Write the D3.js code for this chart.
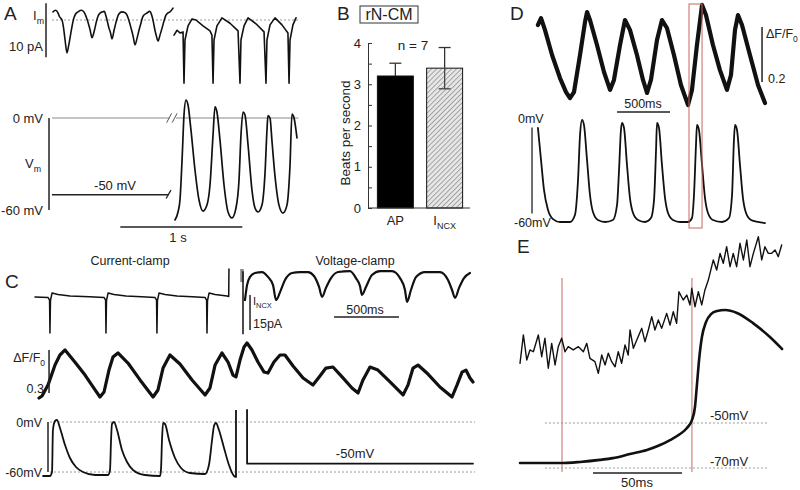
<!DOCTYPE html>
<html>
<head>
<meta charset="utf-8">
<script src="https://d3js.org/d3.v7.min.js"></script>
<style>
  body { margin: 0; background: white; }
  svg { font-family: 'Liberation Sans', Arial, sans-serif; }
  .trace { fill: none; stroke: #111; stroke-linejoin: round; stroke-linecap: round; }
  .dots { stroke: #9a9a9a; stroke-width: 1; stroke-dasharray: 2,2; fill: none; }
  .sbar { stroke: #222; stroke-width: 1.5; }
  .red { stroke: #c46a62; stroke-width: 1; fill: none; }
</style>
</head>
<body>
<svg width="800" height="490"></svg>
<script>
// ---------- data ----------
// A: membrane current (ms, pA) before and after switching, and voltage (ms, mV)
var aCurrentPre = [[8,1.5],[30,1.8],[49,1.3],[62,0.6],[82,0],[95,-1.5],[107,-3.7],[123,-6.1],[136,-4.8],[148,-3.3],[164,-1.2],[180,0.4],[196,1.2],[213,1.5],[240,1.8],[262,1.5],[280,0.6],[295,-0.4],[312,-1.8],[328,-3.3],[340,-2.6],[352,-1.5],[365,-0.2],[377,0.7],[395,1.3],[410,1.5],[428,1.6],[443,0.7],[455,-0.4],[467,-1.5],[480,-2.4],[492,-3.5],[508,-2.0],[525,-0.4],[548,1.1],[574,1.5],[596,1.4],[615,0.9],[632,-0.2],[648,-1.5],[665,-3.0],[680,-4.6],[697,-3.4],[713,-1.9],[730,-0.5],[746,0.7],[779,1.3],[800,1.6],[820,0.7],[832,-0.5],[844,-1.9],[856,-3.0],[869,-3.9],[885,-2.8],[902,-1.5],[918,-0.2],[934,0.9],[950,1.3],[967,1.5],[992,2.2]];
var aCurrentPost = [[1000,-2.8],[1025,-1.9],[1049,-2.4],[1074,-2.2],[1082,-11.7],[1090,-3.7],[1115,-1.1],[1148,0.2],[1180,0],[1238,-1.1],[1295,-2.0],[1311,-2.8],[1320,-11.7],[1328,-3.7],[1352,-1.1],[1393,0.4],[1459,-0.6],[1525,-2.0],[1541,-11.7],[1549,-3.7],[1574,-1.1],[1607,0.4],[1672,-0.7],[1738,-2.2],[1754,-11.7],[1762,-3.7],[1787,-0.9],[1828,0.4],[1885,-0.9],[1934,-2.4],[1943,-11.7],[1951,-3.7],[1975,-0.9],[2000,0.4]];
var aVoltage = [[1008,-66.5],[1033,-61.3],[1049,-53.5],[1066,-27.4],[1082,2],[1098,11.7],[1115,8.5],[1139,-7.8],[1172,-33.9],[1205,-53.5],[1238,-60.7],[1270,-56.8],[1295,-43.7],[1320,-11.1],[1336,7.2],[1352,3.9],[1377,-14.4],[1410,-43.7],[1443,-61.3],[1475,-65.2],[1508,-58.7],[1533,-40.4],[1549,-11.1],[1566,3.9],[1582,2],[1607,-17.6],[1639,-47],[1664,-58.7],[1689,-61.3],[1721,-56.8],[1746,-36],[1762,-8],[1770,1.5],[1787,0],[1803,-15],[1828,-38],[1861,-57],[1893,-62],[1926,-56.8],[1951,-30.7],[1967,2.6],[1984,0],[2008,-13]];
var aHoldMV = -50;

// B: beating rate
var bCategories = ["AP", "INCX"];
var bMeans = [3.2, 3.39];
var bErrors = [0.31, 0.5];
var bTicks = [0, 0.5, 1, 1.5, 2, 2.5, 3, 3.5, 4];

// C: current-clamp then voltage-clamp (ms)
var cCurrentCC = [[0,0],[100,-0.2],[112,-1.3],[115,-15.4],[119,-1.5],[131,1.7],[177,1.1],[269,0.4],[420,0.1],[531,-0.2],[543,-1.3],[546,-15.4],[550,-1.5],[562,1.7],[608,1.1],[700,0.4],[820,0.1],[923,-0.2],[935,-1.3],[938,-15.4],[942,-1.5],[954,1.7],[1000,1.1],[1092,0.4],[1210,0.1],[1308,-0.2],[1320,-1.3],[1323,-15.4],[1327,-1.5],[1339,1.7],[1385,1.1],[1477,0.4],[1490,0.2],[1492,12]];
var cCurrentVC = [[1615,-1.3],[1631,5.1],[1654,8.6],[1692,10.3],[1746,10.7],[1792,8.6],[1831,5.1],[1854,-1.3],[1885,2.1],[1923,7.3],[1977,10.3],[2038,10.7],[2100,10.7],[2146,9],[2185,4.3],[2208,0],[2238,3.9],[2277,8.1],[2331,10.7],[2423,11.1],[2469,8.1],[2500,4.7],[2515,0.9],[2546,4.3],[2592,9.4],[2654,11.1],[2746,11.1],[2808,8.1],[2846,3],[2862,-2.1],[2892,3],[2931,8.6],[3000,10.7],[3115,10.7],[3177,7.3],[3208,3],[3231,-0.4],[3262,3.9],[3300,8.1],[3346,10.3]];
var cFluo = [[31,0],[54,0.014],[100,0.09],[154,0.23],[192,0.3],[231,0.335],[308,0.25],[385,0.16],[462,0.056],[500,0.007],[531,0.042],[569,0.195],[600,0.286],[638,0.314],[715,0.244],[808,0.126],[908,0.007],[946,0.056],[985,0.209],[1038,0.3],[1115,0.237],[1208,0.126],[1308,0.021],[1346,0.07],[1385,0.23],[1438,0.314],[1485,0.251],[1523,0.16],[1546,0.147],[1577,0.265],[1608,0.356],[1631,0.384],[1669,0.335],[1715,0.251],[1762,0.181],[1792,0.174],[1838,0.251],[1885,0.3],[1923,0.3],[1985,0.223],[2062,0.14],[2138,0.091],[2192,0.154],[2238,0.209],[2292,0.216],[2369,0.14],[2438,0.07],[2485,0.035],[2523,0.126],[2577,0.216],[2638,0.195],[2731,0.112],[2831,0.021],[2869,0.09],[2908,0.209],[2946,0.23],[3023,0.167],[3115,0.077],[3208,0.007],[3246,0.09],[3285,0.181],[3315,0.195],[3346,0.14],[3369,0.112]];
var cVoltageCC = [[62,-64.8],[115,-64.8],[131,-60],[138,-9.6],[154,1.2],[169,2.4],[192,-7.2],[231,-27.6],[269,-43.2],[315,-54],[369,-60],[462,-63.6],[562,-63.6],[577,-57.6],[585,-21.6],[592,-2.4],[608,0],[631,-9.6],[669,-33.6],[708,-48],[754,-57.6],[846,-63.6],[962,-64.8],[969,-57.6],[977,-21.6],[985,-1.2],[1000,-2.4],[1031,-21.6],[1077,-43.2],[1123,-55.2],[1192,-61.2],[1308,-62.4],[1338,-51.6],[1362,-21.6],[1377,-4.8],[1392,-1.2],[1415,-9.6],[1454,-31.2],[1492,-51.6],[1531,-64.8],[1546,-66]];
var cVoltageVC = [[1631,14.4],[1631.5,-50],[3369,-50]];

// D: spontaneous Ca transient (dF/F0) and AP (mV), ms
var dFluo = [[9,0.291],[38,0.316],[75,0.273],[142,0.182],[217,0.098],[274,0.047],[311,0.025],[349,0.047],[406,0.182],[453,0.302],[472,0.338],[500,0.309],[566,0.218],[632,0.12],[689,0.055],[726,0.091],[783,0.218],[830,0.309],[877,0.273],[943,0.182],[1000,0.091],[1038,0.044],[1075,0.091],[1132,0.236],[1179,0.309],[1226,0.28],[1292,0.182],[1358,0.073],[1425,0],[1462,0.055],[1509,0.218],[1557,0.364],[1594,0.327],[1660,0.218],[1726,0.127],[1792,0.055],[1830,0.109],[1868,0.273],[1896,0.327],[1934,0.291],[2009,0.182],[2085,0.073],[2151,0.007]];
var dVoltage = [[9,-1.3],[38,-22.2],[66,-41.7],[104,-54.8],[151,-60.7],[217,-62.6],[311,-62.6],[358,-58],[387,-35.2],[406,-5.9],[425,3.9],[443,0.7],[472,-22.2],[500,-45],[528,-56.1],[575,-61.3],[642,-62.6],[717,-61.3],[755,-51.5],[774,-28.7],[792,-2.6],[802,2],[821,-1.3],[849,-25.4],[877,-47],[906,-56.7],[953,-61.3],[1019,-62.6],[1075,-60],[1104,-48.3],[1123,-15.7],[1132,2],[1151,-1.3],[1179,-25.4],[1208,-47],[1236,-56.7],[1283,-61.3],[1349,-62.6],[1425,-62.6],[1462,-60],[1481,-45],[1500,-12.4],[1509,0.7],[1528,-2.6],[1557,-25.4],[1585,-47],[1613,-56.7],[1660,-61.3],[1745,-62.6],[1811,-60],[1840,-45],[1858,-9.1],[1868,0.7],[1887,-2.6],[1915,-25.4],[1943,-47],[1972,-56.7],[2019,-61.3],[2085,-62.6],[2151,-63.3]];
var dWindow = [1434, 1557];

// E: zoom on the boxed upstroke, ms
var eFluo = [[0,0.78],[1.9,2.67],[3.8,1.0],[5.6,1.67],[7.5,1.55],[10.3,2.67],[12.2,1.22],[14.0,2.45],[15.9,0.45],[17.8,2.11],[19.7,0.67],[21.5,1.89],[23.4,2.45],[25.3,1.55],[27.1,1.89],[29.9,1.67],[32.8,1.89],[35.6,1.55],[37.5,2.11],[39.3,1.11],[42.1,0.89],[44.0,0.11],[45.9,1.33],[47.8,0.67],[49.6,1.45],[51.5,0.89],[53.4,0.55],[55.2,1.55],[57.1,0.78],[59.0,2.0],[60.8,1.33],[61.8,3.0],[63.7,1.78],[65.6,2.33],[68.4,3.11],[70.2,2.22],[72.1,3.0],[74.0,3.89],[75.8,3.0],[77.7,3.67],[79.6,3.11],[82.4,4.11],[84.3,3.33],[86.1,4.22],[88.0,3.45],[89.3,5.55],[91.7,5.0],[93.7,5.33],[95.5,4.67],[96.5,5.78],[98.3,4.55],[100.2,5.55],[102.1,4.67],[103.9,5.67],[105.8,6.33],[108.6,7.67],[110.5,7.0],[112.4,8.11],[114.2,7.45],[116.1,8.55],[118.0,7.22],[119.8,8.11],[121.7,7.22],[123.6,8.78],[125.5,7.67],[127.4,9.0],[129.2,7.22],[131.1,8.11],[133.9,9.22],[135.8,7.67],[137.6,8.55],[139.5,8.11],[141.4,8.11],[143.3,8.33],[145.1,7.89],[147.0,8.67]];
var eVoltage = [[0,-67.8],[22.5,-67.8],[33.7,-67.3],[44.9,-66.4],[52.2,-65.6],[61.8,-63.8],[71.3,-62],[78.7,-59.8],[84.3,-57.6],[89.9,-54.9],[93.8,-52.2],[96.6,-48.7],[98.3,-42.9],[99.4,-33.1],[100.6,-22],[102.2,-11.8],[104.5,-5.1],[107.3,-1.6],[110.7,-0.2],[115.2,0.2],[121.9,-1.1],[130.9,-5.6],[140.4,-11.8],[147.2,-17.1]];
var eMarks = [23.6, 96.6];

// ---------- helpers ----------
var svg = d3.select("svg");

function trace(data, x, y, w, curve) {
  return svg.append("path").attr("class", "trace")
    .attr("stroke-width", w)
    .attr("d", d3.line().x(function (d) { return x(d[0]); }).y(function (d) { return y(d[1]); })
      .curve(curve || d3.curveLinear)(data));
}
function line(x1, y1, x2, y2, cls) {
  return svg.append("line").attr("x1", x1).attr("y1", y1).attr("x2", x2).attr("y2", y2).attr("class", cls);
}
function label(x, y, str, size, anchor, sub) {
  var t = svg.append("text").attr("x", x).attr("y", y)
    .attr("font-size", size).attr("text-anchor", anchor || "start").attr("fill", "#222").text(str);
  if (sub) t.append("tspan").attr("font-size", size * 0.68).attr("dy", size * 0.3).text(sub);
  return t;
}

// ---------- panel A ----------
var xA = d3.scaleLinear().domain([0, 2000]).range([52, 296]);
var yAI = d3.scaleLinear().domain([-10, 0]).range([74, 20]);
var yAV = d3.scaleLinear().domain([-60, 0]).range([210, 118]);
var aBreak = 975;

line(xA(0), yAI(0), xA(2020), yAI(0), "dots");
trace(aCurrentPre, xA, yAI, 1.6, d3.curveMonotoneX);
trace(aCurrentPost, xA, yAI, 1.6);
line(46, yAI(3.1), 46, yAI(-6.9), "sbar");

line(xA(0), yAV(0), xA(aBreak - 10), yAV(0)).attr("stroke", "#888").attr("stroke-width", 1);
line(xA(aBreak + 40), yAV(0), xA(2020), yAV(0)).attr("stroke", "#888").attr("stroke-width", 1);
line(xA(aBreak - 35), yAV(-3), xA(aBreak + 5), yAV(3)).attr("stroke", "#555");
line(xA(aBreak + 10), yAV(-3), xA(aBreak + 50), yAV(3)).attr("stroke", "#555");
line(xA(0), yAV(aHoldMV), xA(aBreak - 20), yAV(aHoldMV)).attr("stroke", "#222").attr("stroke-width", 1.5);
line(xA(aBreak - 40), yAV(aHoldMV - 2.5), xA(aBreak), yAV(aHoldMV + 3)).attr("stroke", "#222").attr("stroke-width", 1.3);
trace(aVoltage, xA, yAV, 1.7, d3.curveMonotoneX);
line(49, yAV(0), 49, yAV(-60), "sbar");
line(xA(560), 227, xA(1560), 227, "sbar");

label(4, 20, "A", 19);
label(44, 20, "I", 13, "end", "m");
label(43, 51, "10 pA", 13, "end");
label(43, 123, "0 mV", 13, "end");
label(25, 168, "V", 13, "start", "m");
label(43, 215, "-60 mV", 13, "end");
label(115, 190, "-50 mV", 13, "middle");
label(178, 242, "1 s", 13, "middle");

// ---------- panel B ----------
var yB = d3.scaleLinear().domain([0, 4]).range([208, 43]);
var xB = d3.scaleBand().domain(bCategories).range([370, 470]).paddingInner(0.27).paddingOuter(0.15);

var defs = svg.append("defs");
var pat = defs.append("pattern").attr("id", "hatch").attr("patternUnits", "userSpaceOnUse")
  .attr("width", 3.5).attr("height", 3.5).attr("patternTransform", "rotate(45)");
pat.append("rect").attr("width", 3.5).attr("height", 3.5).attr("fill", "#e6e6e6");
pat.append("line").attr("x1", 0).attr("y1", 0).attr("x2", 0).attr("y2", 3.5)
  .attr("stroke", "#6f6f6f").attr("stroke-width", 1.1);

var bars = svg.append("g");
bars.selectAll("rect").data(bCategories).enter().append("rect")
  .attr("x", function (d) { return xB(d); })
  .attr("y", function (d, i) { return yB(bMeans[i]); })
  .attr("width", xB.bandwidth())
  .attr("height", function (d, i) { return yB(0) - yB(bMeans[i]); })
  .attr("fill", function (d, i) { return i === 0 ? "#000" : "url(#hatch)"; })
  .attr("stroke", "#111").attr("stroke-width", 1);

// error bars; the lower half of the solid bar disappears into the black fill
bCategories.forEach(function (d, i) {
  var cx = xB(d) + xB.bandwidth() / 2;
  var mid = yB(bMeans[i]);
  var top = yB(bMeans[i] + bErrors[i]), bot = yB(bMeans[i] - bErrors[i]);
  var lowCol = i === 0 ? "#000" : "#444";
  line(cx, top, cx, mid).attr("stroke", "#333").attr("stroke-width", 1.3);
  line(cx - 6, top, cx + 6, top).attr("stroke", "#333").attr("stroke-width", 1.3);
  line(cx, mid, cx, bot).attr("stroke", lowCol).attr("stroke-width", 1.3);
  line(cx - 6, bot, cx + 6, bot).attr("stroke", lowCol).attr("stroke-width", 1.3);
});

var gy = svg.append("g").attr("transform", "translate(368,0)")
  .call(d3.axisLeft(yB).tickValues(bTicks).tickSize(-4).tickSizeOuter(0).tickPadding(7)
    .tickFormat(function (d) { return d % 1 === 0 ? d : ""; }));
gy.selectAll("text").attr("font-size", 13).attr("font-family", "'Liberation Sans', Arial, sans-serif").attr("fill", "#222");
gy.selectAll("line, path").attr("stroke", "#333");

var gx = svg.append("g").attr("transform", "translate(0,208)")
  .call(d3.axisBottom(xB).tickSize(0).tickSizeOuter(0).tickPadding(8));
gx.select(".domain").attr("d", "M368,0H470").attr("stroke", "#333");
gx.selectAll("text").attr("font-size", 13).attr("font-family", "'Liberation Sans', Arial, sans-serif").attr("fill", "#222")
  .each(function (d) {
    if (d === "INCX") {
      var t = d3.select(this).text("I");
      t.append("tspan").attr("font-size", 9).attr("dy", 4).text("NCX");
    }
  });

label(337, 20, "B", 19);
svg.append("rect").attr("x", 360).attr("y", 6).attr("width", 58).attr("height", 17)
  .attr("fill", "none").attr("stroke", "#333").attr("stroke-width", 1);
label(389, 20, "rN-CM", 16, "middle");
label(413, 50, "n = 7", 13.5, "middle");
svg.append("text").attr("transform", "translate(350,133) rotate(-90)")
  .attr("text-anchor", "middle").attr("font-size", 13.5).attr("fill", "#222").text("Beats per second");

// ---------- panel C ----------
var xC = d3.scaleLinear().domain([0, 3370]).range([35, 35 + 3370 * 0.13]);
var yCI = d3.scaleLinear().domain([-15, 0]).range([332, 297]);
var yCF = d3.scaleLinear().domain([0, 0.3]).range([398, 355]);
var yCV = d3.scaleLinear().domain([-60, 0]).range([472, 422]);

trace(cCurrentCC, xC, yCI, 1.5);
line(xC(1592), yCI(12), xC(1592), yCI(6.4)).attr("stroke", "#888").attr("stroke-width", 3.5);
line(xC(1600), yCI(11), xC(1600), yCI(-16)).attr("stroke", "#111").attr("stroke-width", 1.5);
trace(cCurrentVC, xC, yCI, 2.2, d3.curveMonotoneX);
line(xC(1654), yCI(0.9), xC(1654), yCI(-14.1), "sbar");
line(xC(2300), 317, xC(2800), 317, "sbar");

// noisy fluorescence is drawn as a heavy stroke
trace(cFluo, xC, yCF, 3.2).attr("stroke", "#141414");
line(xC(108), yCF(0.335), xC(108), yCF(0.035), "sbar");

line(xC(115), yCV(0), xC(3385), yCV(0), "dots");
line(xC(115), yCV(-60), xC(3385), yCV(-60), "dots");
line(xC(100), yCV(0), xC(100), yCV(-60), "sbar");
trace(cVoltageCC, xC, yCV, 1.8, d3.curveMonotoneX);
line(xC(1546), yCV(-66), xC(1546), yCV(14.4)).attr("stroke", "#111").attr("stroke-width", 1.8);
trace(cVoltageVC, xC, yCV, 1.8);

label(5, 288, "C", 19);
label(130, 265, "Current-clamp", 12.5, "middle");
label(355, 265, "Voltage-clamp", 12.5, "middle");
label(253, 305, "I", 11, "start", "NCX");
label(253, 328, "15pA", 12.5);
label(365, 314, "500ms", 12.5, "middle");
label(45, 362, "\u0394F/F", 12.5, "end", "0");
label(44, 393, "0.3", 12.5, "end");
label(42, 427, "0mV", 12.5, "end");
label(42, 477, "-60mV", 12.5, "end");
label(355, 458, "-50mV", 13, "middle");

// ---------- panel D ----------
var xD = d3.scaleLinear().domain([0, 2170]).range([537, 537 + 2170 * 0.106]);
var yDF = d3.scaleLinear().domain([0, 0.2]).range([105, 50]);
var yDV = d3.scaleLinear().domain([-60, 0]).range([218, 126]);

trace(dFluo, xD, yDF, 4.2).attr("stroke", "#141414");
trace(dVoltage, xD, yDV, 1.8, d3.curveMonotoneX);
line(xD(2123), yDF(0.284), xD(2123), yDF(0.084), "sbar");
line(xD(755), 112, xD(1255), 112, "sbar");
line(xD(-47), yDV(-1), xD(-47), yDV(-57)).attr("stroke", "#222").attr("stroke-width", 1.3);
svg.append("rect").attr("class", "red")
  .attr("x", xD(dWindow[0])).attr("y", 4)
  .attr("width", xD(dWindow[1]) - xD(dWindow[0])).attr("height", 224);

label(510, 20, "D", 19);
label(766, 38, "\u0394F/F", 12.5, "start", "0");
label(768, 83, "0.2", 12.5);
label(643, 108, "500ms", 12.5, "middle");
label(518, 123, "0mV", 12.5);
label(514, 227, "-60mV", 12.5);

// ---------- panel E ----------
var xE = d3.scaleLinear().domain([0, 150]).range([520, 520 + 150 * 1.78]);
var yEV = d3.scaleLinear().domain([-70, -50]).range([468, 423]);
var yEF = d3.scaleLinear().domain([0, 10]).range([375, 225]);

eMarks.forEach(function (t) { line(xE(t), 278, xE(t), 472, "red"); });
line(xE(14), yEV(-50), xE(139), yEV(-50), "dots");
line(xE(14), yEV(-70), xE(139), yEV(-70), "dots");
trace(eFluo, xE, yEF, 1.4);
trace(eVoltage, xE, yEV, 2.6, d3.curveMonotoneX);
line(xE(41), 473, xE(91), 473, "sbar");

label(517, 253, "E", 19);
label(710, 420, "-50mV", 13);
label(710, 466, "-70mV", 13);
label(637, 487, "50ms", 13, "middle");
</script>
</body>
</html>
